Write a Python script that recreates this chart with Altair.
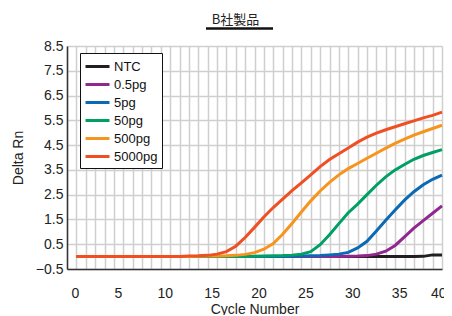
import altair as alt
import pandas as pd

cycles = list(range(1, 41))
series_names = ["NTC", "0.5pg", "5pg", "50pg", "500pg", "5000pg"]
colors = ["#231f20", "#92278f", "#0a6ab4", "#00a065", "#f7941d", "#f04e23"]
chart_title = "B社製品"

ntc = [0.0, 0.0, 0.0, 0.0, 0.0, 0.0, 0.0, 0.0, 0.0, 0.0,
       0.0, 0.0, 0.0, 0.0, 0.0, 0.0, 0.0, 0.0, 0.0, 0.0,
       0.0, 0.0, 0.0, 0.0, 0.0, 0.0, 0.0, 0.0, 0.0, 0.0,
       0.0, 0.0, 0.0, 0.0, 0.0, 0.0, 0.0, 0.01, 0.07, 0.07]
pg05 = [0.0, 0.0, 0.0, 0.0, 0.0, 0.0, 0.0, 0.0, 0.0, 0.0,
        0.0, 0.0, 0.0, 0.0, 0.0, 0.0, 0.0, 0.0, 0.0, 0.0,
        0.0, 0.0, 0.0, 0.0, 0.0, 0.0, 0.0, 0.0, 0.0, 0.01,
        0.02, 0.04, 0.1, 0.22, 0.45, 0.8, 1.15, 1.45, 1.75, 2.05]
pg5 = [0.0, 0.0, 0.0, 0.0, 0.0, 0.0, 0.0, 0.0, 0.0, 0.0,
       0.0, 0.0, 0.0, 0.0, 0.0, 0.0, 0.0, 0.0, 0.0, 0.0,
       0.0, 0.0, 0.0, 0.01, 0.02, 0.03, 0.04, 0.07, 0.1, 0.17,
       0.35, 0.62, 1.03, 1.47, 1.88, 2.28, 2.62, 2.9, 3.12, 3.29]
pg50 = [0.0, 0.0, 0.0, 0.0, 0.0, 0.0, 0.0, 0.0, 0.0, 0.0,
        0.0, 0.0, 0.0, 0.0, 0.0, 0.0, 0.0, 0.0, 0.0, 0.01,
        0.02, 0.03, 0.04, 0.06, 0.1, 0.2, 0.48, 0.88, 1.33, 1.77,
        2.12, 2.5, 2.88, 3.22, 3.5, 3.72, 3.93, 4.08, 4.2, 4.32]
pg500 = [0.0, 0.0, 0.0, 0.0, 0.0, 0.0, 0.0, 0.0, 0.0, 0.0,
         0.0, 0.0, 0.0, 0.01, 0.02, 0.02, 0.03, 0.05, 0.09, 0.16,
         0.3, 0.53, 0.9, 1.34, 1.8, 2.25, 2.65, 3.0, 3.3, 3.55,
         3.76, 3.97, 4.17, 4.38, 4.57, 4.74, 4.9, 5.04, 5.17, 5.3]
pg5000 = [0.0, 0.0, 0.0, 0.0, 0.0, 0.0, 0.0, 0.0, 0.0, 0.0,
          0.0, 0.0, 0.02, 0.03, 0.05, 0.1, 0.2, 0.42, 0.77, 1.18,
          1.6, 1.98, 2.32, 2.66, 2.98, 3.3, 3.63, 3.92, 4.15, 4.38,
          4.62, 4.82, 4.98, 5.12, 5.24, 5.36, 5.48, 5.6, 5.7, 5.83]

y_ticks = [-0.5, 0.5, 1.5, 2.5, 3.5, 4.5, 5.5, 6.5, 7.5, 8.5]
x_grid = list(range(0, 41))

all_series = [ntc, pg05, pg5, pg50, pg500, pg5000]
rows = []
for i, (name, vals) in enumerate(zip(series_names, all_series)):
    for c, v in zip(cycles, vals):
        rows.append({"cycle": c, "value": v, "series": name, "k": i})
df = pd.DataFrame(rows)

FONT = "Liberation Sans"

lines = alt.Chart(df).mark_line(strokeWidth=3).encode(
    x=alt.X("cycle:Q", scale=alt.Scale(domain=[0, 40], nice=False),
            axis=alt.Axis(values=x_grid, labelExpr="datum.value % 5 == 0 ? datum.label : ''",
                          ticks=False, labelPadding=17, labelOffset=4, title="Cycle Number",
                          titlePadding=2, labelFontSize=14, titleFontSize=14)),
    y=alt.Y("value:Q", scale=alt.Scale(domain=[-0.5, 8.5], nice=False, zero=False),
            axis=alt.Axis(values=y_ticks, format=".1f", ticks=False, labelPadding=4,
                          title="Delta Rn", titlePadding=10, labelFontSize=14, titleFontSize=14)),
    color=alt.Color("series:N", sort=series_names,
                    scale=alt.Scale(domain=series_names, range=colors),
                    legend=alt.Legend(title=None, orient="none", legendX=13, legendY=7,
                                      symbolType="M-1,0H2", symbolStrokeWidth=3, symbolSize=256,
                                      rowPadding=1, padding=4, labelOffset=11,
                                      strokeColor="#111111", fillColor="#ffffff",
                                      labelFontSize=13, labelFont=FONT, labelColor="#111111")),
    detail="k:O",
)

title_text = alt.Chart(alt.Data(values=[{"t": chart_title}])).mark_text(
    font="Noto Sans CJK JP", fontSize=13, color="#222222", baseline="middle", align="center"
).encode(x=alt.value(168.5), y=alt.value(-26.5), text="t:N")

underline = alt.Chart(alt.Data(values=[{"a": 1}])).mark_rule(color="#111111", strokeWidth=2.5).encode(
    x=alt.value(139), x2=alt.value(206), y=alt.value(-17.5)
)

chart = alt.layer(lines, title_text, underline).properties(
    width=375, height=223,
    autosize=alt.AutoSizeParams(type="none"),
    padding={"left": 59, "top": 38, "right": 2, "bottom": 46},
).configure_view(strokeWidth=0).configure_axis(
    domainColor="#333333", domainWidth=1.5, gridColor="#cfcfcf", gridWidth=1.5,
    labelFont=FONT, titleFont=FONT, labelColor="#222222", titleColor="#222222",
    titleFontWeight="normal",
)

chart.save("out.html", embed_options={"renderer": "svg", "actions": False})
